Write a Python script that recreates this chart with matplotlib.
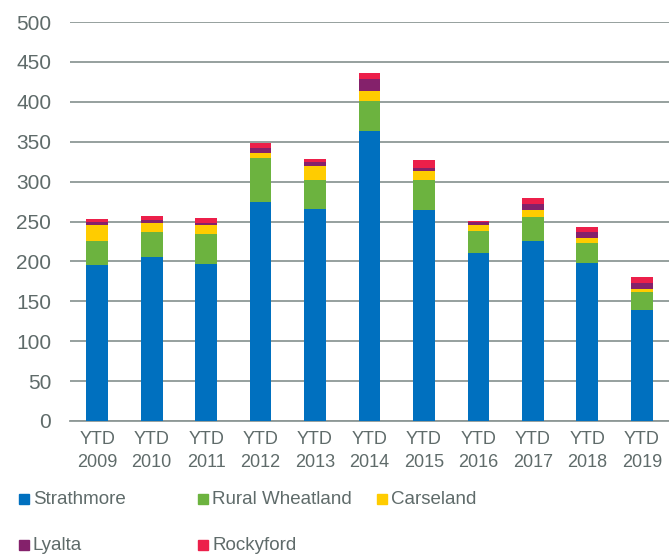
import numpy as np
import matplotlib.pyplot as plt
from matplotlib.patches import Rectangle

plt.rcParams['font.family'] = ['Liberation Sans', 'DejaVu Sans']

# dados
anos = ['YTD\n2009', 'YTD\n2010', 'YTD\n2011', 'YTD\n2012', 'YTD\n2013', 'YTD\n2014',
        'YTD\n2015', 'YTD\n2016', 'YTD\n2017', 'YTD\n2018', 'YTD\n2019']
strathmore = [195, 205, 197, 275, 266, 364, 264, 210, 226, 198, 139]
rural_wheatland = [31, 32, 37, 55, 36, 37, 38, 28, 30, 25, 23]
carseland = [20, 11, 12, 6, 17, 13, 11, 8, 9, 6, 4]
lyalta = [4, 4, 2, 6, 6, 14, 4, 3, 7, 8, 7]
rockyford = [3, 5, 7, 6, 3, 8, 10, 2, 7, 6, 7]

series = [
    ('Strathmore', strathmore, '#0070BF'),
    ('Rural Wheatland', rural_wheatland, '#6CB33F'),
    ('Carseland', carseland, '#FFCC00'),
    ('Lyalta', lyalta, '#84216B'),
    ('Rockyford', rockyford, '#EC1F4A'),
]

cinza = '#5F6B6A'
W, H = 669, 554

fig = plt.figure(figsize=(W / 100, H / 100), dpi=100)
ax = fig.add_axes([70 / W, 1 - 421 / H, 599 / W, 399 / H])

x = np.arange(len(anos))
base = np.zeros(len(anos))
for nome, vals, cor in series:
    ax.bar(x, vals, bottom=base, width=0.4, color=cor, label=nome, zorder=3)
    base += np.array(vals)

ax.set_xlim(-0.5, len(anos) - 0.5)
ax.set_ylim(0, 500)
ax.set_yticks(range(0, 501, 50))
ax.set_xticks(x)
ax.set_xticklabels(anos, fontsize=13, linespacing=1.45)
ax.grid(axis='y', color='#8E9896', linewidth=1.3, zorder=0)
for s in ['top', 'right', 'left']:
    ax.spines[s].set_visible(False)
ax.spines['bottom'].set_color('#8E9896')
ax.spines['bottom'].set_linewidth(1.3)
ax.tick_params(axis='both', length=0, colors=cinza)
ax.tick_params(axis='y', labelsize=15, pad=13.5)
ax.tick_params(axis='x', pad=7)

# legenda no estilo do Excel: colunas de largura fixa
col_x = [19, 198, 377]
lin_y = [499, 545]
for i, (nome, _, cor) in enumerate(series):
    cx = col_x[i % 3]
    cy = lin_y[i // 3]
    fig.add_artist(Rectangle((cx / W, 1 - (cy + 5) / H), 10 / W, 10 / H,
                             color=cor, transform=fig.transFigure))
    fig.text((cx + 14) / W, 1 - cy / H, nome, fontsize=13.5, color=cinza,
             va='center', ha='left')

fig.savefig('out.png', dpi=100)
